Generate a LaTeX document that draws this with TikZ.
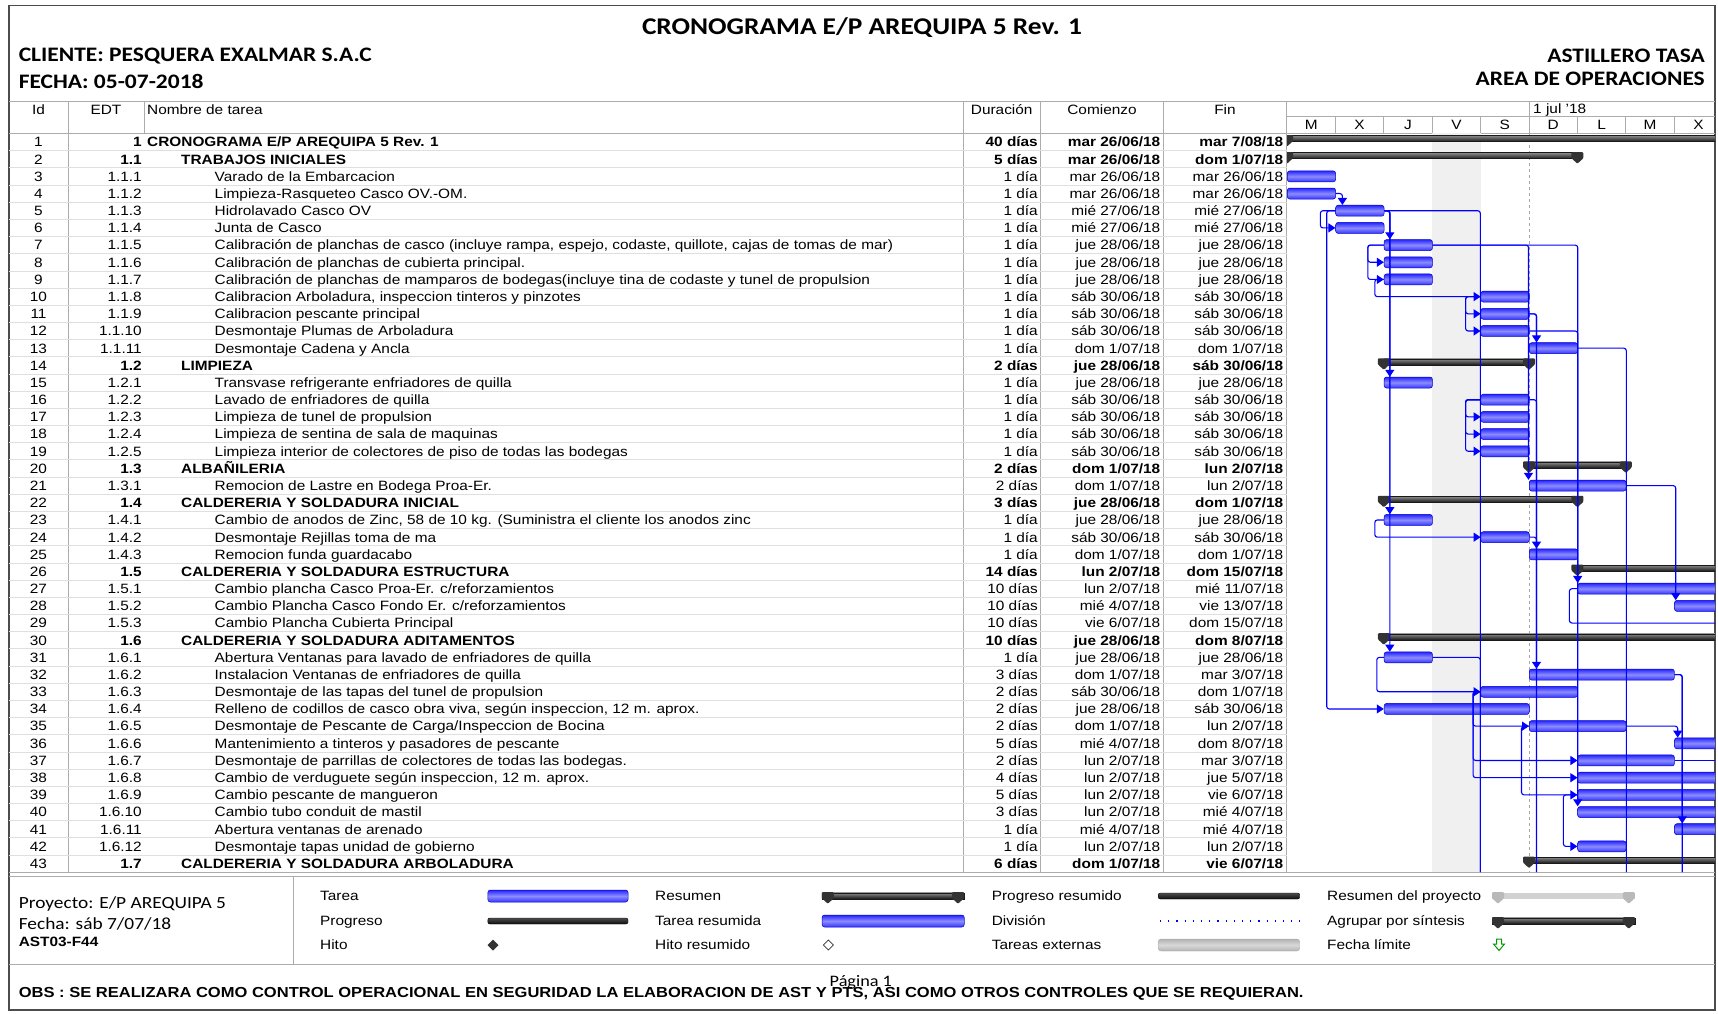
\documentclass[tikz,border=0pt]{standalone}
\usepackage{fontspec}
\setmainfont[FakeStretch=1.14]{Liberation Sans}
\newfontfamily\calibrifont[FakeStretch=1.14]{Carlito}
\usetikzlibrary{arrows.meta}
\usetikzlibrary{positioning}

\begin{document}
\begin{tikzpicture}[x=1pt,y=-1pt,
  tx/.style={inner sep=0pt, text height=9.7pt, text depth=0pt, font=\fontsize{13.5}{16}\selectfont},
  idc/.style={tx, anchor=center},
  edtc/.style={tx, anchor=east},
  nmc/.style={tx, anchor=west},
  durc/.style={tx, anchor=east},
  datc/.style={tx, anchor=east},
  sb/.style={font=\fontsize{13.5}{16}\selectfont\bfseries},
  task/.style={anchor=west, inner sep=0pt, minimum height=11pt, rounded corners=2.5pt, draw=blue!80!black, line width=0.5pt, top color=blue!85, bottom color=blue!80, middle color=blue!45},
  prog/.style={anchor=west, inner sep=0pt, minimum height=6pt, rounded corners=2pt, draw=black, top color=black!70, bottom color=black!95},
  sumbar/.style={draw=black!90, line width=0.4pt, top color=black!45, bottom color=black!90},
  sumcap/.pic={\fill[black!80, rounded corners=1pt] (-6,-7) -- (6,-7) -- (6,-1) -- (0,4.5) -- (-6,-1) -- cycle;},
  greycap/.pic={\fill[gray!55, rounded corners=1pt] (-6,-7) -- (6,-7) -- (6,-1) -- (0,4.5) -- (-6,-1) -- cycle;},
  link/.style={draw=blue, line width=1.1pt, rounded corners=2.5pt, -{Triangle[width=9pt,length=7pt]}},
  linkoff/.style={draw=blue, line width=1.1pt, rounded corners=2.5pt},
  grid/.style={gray!65, line width=0.8pt},
  rowline/.style={gray!25, line width=0.7pt}]
\useasboundingbox (0,0) rectangle (1718,1013);

% frame and header block
\draw[black!70, line width=1.2pt] (9,5.5) rectangle (1715,1010);
\node[font=\calibrifont\bfseries\fontsize{24}{28}\selectfont] (title) at (862,27.4) {CRONOGRAMA E/P AREQUIPA 5 Rev. 1};
\node[font=\calibrifont\bfseries\fontsize{20.6}{24}\selectfont, anchor=west, inner sep=0pt] (cliente) at (18.6,56) {CLIENTE: PESQUERA EXALMAR S.A.C};
\node[font=\calibrifont\bfseries\fontsize{20.6}{24}\selectfont, anchor=west, inner sep=0pt] (fecha) at (18.6,81) {FECHA: 05-07-2018};
\node[font=\calibrifont\bfseries\fontsize{20.6}{24}\selectfont, anchor=east, inner sep=0pt] (astillero) at (1705,56) {ASTILLERO TASA};
\node[font=\calibrifont\bfseries\fontsize{20.6}{24}\selectfont, inner sep=0pt, below left=9pt and 0pt of astillero.south east] (area) {AREA DE OPERACIONES};

% table grid
\draw[grid] (9,101) -- (1715,101);
\draw[grid] (9,133.4) -- (1715,133.4);
\draw[grid] (1286.5,116) -- (1715,116);
\draw[grid] (68,101) -- (68,872.15);
\draw[grid] (144.6,101) -- (144.6,133.4);
\draw[grid] (963.5,101) -- (963.5,872.15);
\draw[grid] (1040.5,101) -- (1040.5,872.15);
\draw[grid] (1163,101) -- (1163,872.15);
\draw[grid] (1286.5,101) -- (1286.5,872.15);
\draw[grid] (1529,101) -- (1529,116);
\draw[grid] (1335.4,116) -- (1335.4,133.4) (1383.8,116) -- (1383.8,133.4) (1432.2,116) -- (1432.2,133.4) (1480.6,116) -- (1480.6,133.4) (1529,116) -- (1529,133.4) (1577.4,116) -- (1577.4,133.4) (1625.8,116) -- (1625.8,133.4) (1674.2,116) -- (1674.2,133.4);
\draw[rowline] (9,150.59) -- (1286.5,150.59) (9,167.77) -- (1286.5,167.77) (9,184.95) -- (1286.5,184.95) (9,202.13) -- (1286.5,202.13) (9,219.31) -- (1286.5,219.31) (9,236.49) -- (1286.5,236.49) (9,253.67) -- (1286.5,253.67) (9,270.85) -- (1286.5,270.85) (9,288.03) -- (1286.5,288.03) (9,305.21) -- (1286.5,305.21) (9,322.39) -- (1286.5,322.39) (9,339.57) -- (1286.5,339.57) (9,356.75) -- (1286.5,356.75) (9,373.93) -- (1286.5,373.93);
\draw[rowline] (9,391.11) -- (1286.5,391.11) (9,408.29) -- (1286.5,408.29) (9,425.47) -- (1286.5,425.47) (9,442.65) -- (1286.5,442.65) (9,459.83) -- (1286.5,459.83) (9,477.01) -- (1286.5,477.01) (9,494.19) -- (1286.5,494.19) (9,511.37) -- (1286.5,511.37) (9,528.55) -- (1286.5,528.55) (9,545.73) -- (1286.5,545.73) (9,562.91) -- (1286.5,562.91) (9,580.09) -- (1286.5,580.09) (9,597.27) -- (1286.5,597.27) (9,614.45) -- (1286.5,614.45);
\draw[rowline] (9,631.63) -- (1286.5,631.63) (9,648.81) -- (1286.5,648.81) (9,665.99) -- (1286.5,665.99) (9,683.17) -- (1286.5,683.17) (9,700.35) -- (1286.5,700.35) (9,717.53) -- (1286.5,717.53) (9,734.71) -- (1286.5,734.71) (9,751.89) -- (1286.5,751.89) (9,769.07) -- (1286.5,769.07) (9,786.25) -- (1286.5,786.25) (9,803.43) -- (1286.5,803.43) (9,820.61) -- (1286.5,820.61) (9,837.79) -- (1286.5,837.79) (9,854.97) -- (1286.5,854.97);
\draw[grid] (9,872.15) -- (1715,872.15);
\draw[grid] (9,876) -- (1715,876);
\draw[grid] (9,964) -- (1715,964);
\draw[grid] (293.6,876) -- (293.6,964);

% column headings
\node[idc] (hid) at (38.5,110) {Id};
\node[idc] (hedt) at (106,110) {EDT};
\node[nmc] (hnm) at (147,110) {Nombre de tarea};
\node[idc] (hdur) at (1001.7,110) {Duración};
\node[idc] (hcom) at (1102,110) {Comienzo};
\node[idc] (hfin) at (1225,110) {Fin};
\node[nmc] (hsem) at (1533,109) {1 jul '18};
\node[idc] (d0) at (1311.2,125) {M};
\node[idc] (d1) at (1359.6,125) {X};
\node[idc] (d2) at (1408,125) {J};
\node[idc] (d3) at (1456.4,125) {V};
\node[idc] (d4) at (1504.8,125) {S};
\node[idc] (d5) at (1553.2,125) {D};
\node[idc] (d6) at (1601.6,125) {L};
\node[idc] (d7) at (1650,125) {M};
\node[idc] (d8) at (1698.4,125) {X};

% rows
\node[idc] (id1) at (38.5,142) {1}; \node[edtc,sb] (edt1) at (142,142) {1}; \node[nmc,sb] (nm1) at (147,142) {CRONOGRAMA E/P AREQUIPA 5 Rev. 1}; \node[durc,sb] (dur1) at (1038,142) {40 días}; \node[datc,sb] (com1) at (1160.5,142) {mar 26/06/18}; \node[datc,sb] (fin1) at (1283.5,142) {mar 7/08/18};
\node[idc] (id2) at (38.5,159.18) {2}; \node[edtc,sb] (edt2) at (142,159.18) {1.1}; \node[nmc,sb] (nm2) at (181,159.18) {TRABAJOS INICIALES}; \node[durc,sb] (dur2) at (1038,159.18) {5 días}; \node[datc,sb] (com2) at (1160.5,159.18) {mar 26/06/18}; \node[datc,sb] (fin2) at (1283.5,159.18) {dom 1/07/18};
\node[idc] (id3) at (38.5,176.36) {3}; \node[edtc] (edt3) at (142,176.36) {1.1.1}; \node[nmc] (nm3) at (214.5,176.36) {Varado de la Embarcacion}; \node[durc] (dur3) at (1038,176.36) {1 día}; \node[datc] (com3) at (1160.5,176.36) {mar 26/06/18}; \node[datc] (fin3) at (1283.5,176.36) {mar 26/06/18};
\node[idc] (id4) at (38.5,193.54) {4}; \node[edtc] (edt4) at (142,193.54) {1.1.2}; \node[nmc] (nm4) at (214.5,193.54) {Limpieza-Rasqueteo Casco OV.-OM.}; \node[durc] (dur4) at (1038,193.54) {1 día}; \node[datc] (com4) at (1160.5,193.54) {mar 26/06/18}; \node[datc] (fin4) at (1283.5,193.54) {mar 26/06/18};
\node[idc] (id5) at (38.5,210.72) {5}; \node[edtc] (edt5) at (142,210.72) {1.1.3}; \node[nmc] (nm5) at (214.5,210.72) {Hidrolavado Casco OV}; \node[durc] (dur5) at (1038,210.72) {1 día}; \node[datc] (com5) at (1160.5,210.72) {mié 27/06/18}; \node[datc] (fin5) at (1283.5,210.72) {mié 27/06/18};
\node[idc] (id6) at (38.5,227.90) {6}; \node[edtc] (edt6) at (142,227.90) {1.1.4}; \node[nmc] (nm6) at (214.5,227.90) {Junta de Casco}; \node[durc] (dur6) at (1038,227.90) {1 día}; \node[datc] (com6) at (1160.5,227.90) {mié 27/06/18}; \node[datc] (fin6) at (1283.5,227.90) {mié 27/06/18};
\node[idc] (id7) at (38.5,245.08) {7}; \node[edtc] (edt7) at (142,245.08) {1.1.5}; \node[nmc] (nm7) at (214.5,245.08) {Calibración de planchas de casco (incluye rampa, espejo, codaste, quillote, cajas de tomas de mar)}; \node[durc] (dur7) at (1038,245.08) {1 día}; \node[datc] (com7) at (1160.5,245.08) {jue 28/06/18}; \node[datc] (fin7) at (1283.5,245.08) {jue 28/06/18};
\node[idc] (id8) at (38.5,262.26) {8}; \node[edtc] (edt8) at (142,262.26) {1.1.6}; \node[nmc] (nm8) at (214.5,262.26) {Calibración de planchas de cubierta principal.}; \node[durc] (dur8) at (1038,262.26) {1 día}; \node[datc] (com8) at (1160.5,262.26) {jue 28/06/18}; \node[datc] (fin8) at (1283.5,262.26) {jue 28/06/18};
\node[idc] (id9) at (38.5,279.44) {9}; \node[edtc] (edt9) at (142,279.44) {1.1.7}; \node[nmc] (nm9) at (214.5,279.44) {Calibración de planchas de mamparos de bodegas(incluye tina de codaste y tunel de propulsion}; \node[durc] (dur9) at (1038,279.44) {1 día}; \node[datc] (com9) at (1160.5,279.44) {jue 28/06/18}; \node[datc] (fin9) at (1283.5,279.44) {jue 28/06/18};
\node[idc] (id10) at (38.5,296.62) {10}; \node[edtc] (edt10) at (142,296.62) {1.1.8}; \node[nmc] (nm10) at (214.5,296.62) {Calibracion Arboladura, inspeccion tinteros y pinzotes}; \node[durc] (dur10) at (1038,296.62) {1 día}; \node[datc] (com10) at (1160.5,296.62) {sáb 30/06/18}; \node[datc] (fin10) at (1283.5,296.62) {sáb 30/06/18};
\node[idc] (id11) at (38.5,313.80) {11}; \node[edtc] (edt11) at (142,313.80) {1.1.9}; \node[nmc] (nm11) at (214.5,313.80) {Calibracion pescante principal}; \node[durc] (dur11) at (1038,313.80) {1 día}; \node[datc] (com11) at (1160.5,313.80) {sáb 30/06/18}; \node[datc] (fin11) at (1283.5,313.80) {sáb 30/06/18};
\node[idc] (id12) at (38.5,330.98) {12}; \node[edtc] (edt12) at (142,330.98) {1.1.10}; \node[nmc] (nm12) at (214.5,330.98) {Desmontaje Plumas de Arboladura}; \node[durc] (dur12) at (1038,330.98) {1 día}; \node[datc] (com12) at (1160.5,330.98) {sáb 30/06/18}; \node[datc] (fin12) at (1283.5,330.98) {sáb 30/06/18};
\node[idc] (id13) at (38.5,348.16) {13}; \node[edtc] (edt13) at (142,348.16) {1.1.11}; \node[nmc] (nm13) at (214.5,348.16) {Desmontaje Cadena y Ancla}; \node[durc] (dur13) at (1038,348.16) {1 día}; \node[datc] (com13) at (1160.5,348.16) {dom 1/07/18}; \node[datc] (fin13) at (1283.5,348.16) {dom 1/07/18};
\node[idc] (id14) at (38.5,365.34) {14}; \node[edtc,sb] (edt14) at (142,365.34) {1.2}; \node[nmc,sb] (nm14) at (181,365.34) {LIMPIEZA}; \node[durc,sb] (dur14) at (1038,365.34) {2 días}; \node[datc,sb] (com14) at (1160.5,365.34) {jue 28/06/18}; \node[datc,sb] (fin14) at (1283.5,365.34) {sáb 30/06/18};
\node[idc] (id15) at (38.5,382.52) {15}; \node[edtc] (edt15) at (142,382.52) {1.2.1}; \node[nmc] (nm15) at (214.5,382.52) {Transvase refrigerante enfriadores de quilla}; \node[durc] (dur15) at (1038,382.52) {1 día}; \node[datc] (com15) at (1160.5,382.52) {jue 28/06/18}; \node[datc] (fin15) at (1283.5,382.52) {jue 28/06/18};
\node[idc] (id16) at (38.5,399.70) {16}; \node[edtc] (edt16) at (142,399.70) {1.2.2}; \node[nmc] (nm16) at (214.5,399.70) {Lavado de enfriadores de quilla}; \node[durc] (dur16) at (1038,399.70) {1 día}; \node[datc] (com16) at (1160.5,399.70) {sáb 30/06/18}; \node[datc] (fin16) at (1283.5,399.70) {sáb 30/06/18};
\node[idc] (id17) at (38.5,416.88) {17}; \node[edtc] (edt17) at (142,416.88) {1.2.3}; \node[nmc] (nm17) at (214.5,416.88) {Limpieza de tunel de propulsion}; \node[durc] (dur17) at (1038,416.88) {1 día}; \node[datc] (com17) at (1160.5,416.88) {sáb 30/06/18}; \node[datc] (fin17) at (1283.5,416.88) {sáb 30/06/18};
\node[idc] (id18) at (38.5,434.06) {18}; \node[edtc] (edt18) at (142,434.06) {1.2.4}; \node[nmc] (nm18) at (214.5,434.06) {Limpieza de sentina de sala de maquinas}; \node[durc] (dur18) at (1038,434.06) {1 día}; \node[datc] (com18) at (1160.5,434.06) {sáb 30/06/18}; \node[datc] (fin18) at (1283.5,434.06) {sáb 30/06/18};
\node[idc] (id19) at (38.5,451.24) {19}; \node[edtc] (edt19) at (142,451.24) {1.2.5}; \node[nmc] (nm19) at (214.5,451.24) {Limpieza interior de colectores de piso de todas las bodegas}; \node[durc] (dur19) at (1038,451.24) {1 día}; \node[datc] (com19) at (1160.5,451.24) {sáb 30/06/18}; \node[datc] (fin19) at (1283.5,451.24) {sáb 30/06/18};
\node[idc] (id20) at (38.5,468.42) {20}; \node[edtc,sb] (edt20) at (142,468.42) {1.3}; \node[nmc,sb] (nm20) at (181,468.42) {ALBAÑILERIA}; \node[durc,sb] (dur20) at (1038,468.42) {2 días}; \node[datc,sb] (com20) at (1160.5,468.42) {dom 1/07/18}; \node[datc,sb] (fin20) at (1283.5,468.42) {lun 2/07/18};
\node[idc] (id21) at (38.5,485.60) {21}; \node[edtc] (edt21) at (142,485.60) {1.3.1}; \node[nmc] (nm21) at (214.5,485.60) {Remocion de Lastre en Bodega Proa-Er.}; \node[durc] (dur21) at (1038,485.60) {2 días}; \node[datc] (com21) at (1160.5,485.60) {dom 1/07/18}; \node[datc] (fin21) at (1283.5,485.60) {lun 2/07/18};
\node[idc] (id22) at (38.5,502.78) {22}; \node[edtc,sb] (edt22) at (142,502.78) {1.4}; \node[nmc,sb] (nm22) at (181,502.78) {CALDERERIA Y SOLDADURA INICIAL}; \node[durc,sb] (dur22) at (1038,502.78) {3 días}; \node[datc,sb] (com22) at (1160.5,502.78) {jue 28/06/18}; \node[datc,sb] (fin22) at (1283.5,502.78) {dom 1/07/18};
\node[idc] (id23) at (38.5,519.96) {23}; \node[edtc] (edt23) at (142,519.96) {1.4.1}; \node[nmc] (nm23) at (214.5,519.96) {Cambio de anodos de Zinc, 58 de 10 kg. (Suministra el cliente los anodos zinc}; \node[durc] (dur23) at (1038,519.96) {1 día}; \node[datc] (com23) at (1160.5,519.96) {jue 28/06/18}; \node[datc] (fin23) at (1283.5,519.96) {jue 28/06/18};
\node[idc] (id24) at (38.5,537.14) {24}; \node[edtc] (edt24) at (142,537.14) {1.4.2}; \node[nmc] (nm24) at (214.5,537.14) {Desmontaje Rejillas toma de ma}; \node[durc] (dur24) at (1038,537.14) {1 día}; \node[datc] (com24) at (1160.5,537.14) {sáb 30/06/18}; \node[datc] (fin24) at (1283.5,537.14) {sáb 30/06/18};
\node[idc] (id25) at (38.5,554.32) {25}; \node[edtc] (edt25) at (142,554.32) {1.4.3}; \node[nmc] (nm25) at (214.5,554.32) {Remocion funda guardacabo}; \node[durc] (dur25) at (1038,554.32) {1 día}; \node[datc] (com25) at (1160.5,554.32) {dom 1/07/18}; \node[datc] (fin25) at (1283.5,554.32) {dom 1/07/18};
\node[idc] (id26) at (38.5,571.50) {26}; \node[edtc,sb] (edt26) at (142,571.50) {1.5}; \node[nmc,sb] (nm26) at (181,571.50) {CALDERERIA Y SOLDADURA ESTRUCTURA}; \node[durc,sb] (dur26) at (1038,571.50) {14 días}; \node[datc,sb] (com26) at (1160.5,571.50) {lun 2/07/18}; \node[datc,sb] (fin26) at (1283.5,571.50) {dom 15/07/18};
\node[idc] (id27) at (38.5,588.68) {27}; \node[edtc] (edt27) at (142,588.68) {1.5.1}; \node[nmc] (nm27) at (214.5,588.68) {Cambio plancha Casco Proa-Er. c/reforzamientos}; \node[durc] (dur27) at (1038,588.68) {10 días}; \node[datc] (com27) at (1160.5,588.68) {lun 2/07/18}; \node[datc] (fin27) at (1283.5,588.68) {mié 11/07/18};
\node[idc] (id28) at (38.5,605.86) {28}; \node[edtc] (edt28) at (142,605.86) {1.5.2}; \node[nmc] (nm28) at (214.5,605.86) {Cambio Plancha Casco Fondo Er. c/reforzamientos}; \node[durc] (dur28) at (1038,605.86) {10 días}; \node[datc] (com28) at (1160.5,605.86) {mié 4/07/18}; \node[datc] (fin28) at (1283.5,605.86) {vie 13/07/18};
\node[idc] (id29) at (38.5,623.04) {29}; \node[edtc] (edt29) at (142,623.04) {1.5.3}; \node[nmc] (nm29) at (214.5,623.04) {Cambio Plancha Cubierta Principal}; \node[durc] (dur29) at (1038,623.04) {10 días}; \node[datc] (com29) at (1160.5,623.04) {vie 6/07/18}; \node[datc] (fin29) at (1283.5,623.04) {dom 15/07/18};
\node[idc] (id30) at (38.5,640.22) {30}; \node[edtc,sb] (edt30) at (142,640.22) {1.6}; \node[nmc,sb] (nm30) at (181,640.22) {CALDERERIA Y SOLDADURA ADITAMENTOS}; \node[durc,sb] (dur30) at (1038,640.22) {10 días}; \node[datc,sb] (com30) at (1160.5,640.22) {jue 28/06/18}; \node[datc,sb] (fin30) at (1283.5,640.22) {dom 8/07/18};
\node[idc] (id31) at (38.5,657.40) {31}; \node[edtc] (edt31) at (142,657.40) {1.6.1}; \node[nmc] (nm31) at (214.5,657.40) {Abertura Ventanas para lavado de enfriadores de quilla}; \node[durc] (dur31) at (1038,657.40) {1 día}; \node[datc] (com31) at (1160.5,657.40) {jue 28/06/18}; \node[datc] (fin31) at (1283.5,657.40) {jue 28/06/18};
\node[idc] (id32) at (38.5,674.58) {32}; \node[edtc] (edt32) at (142,674.58) {1.6.2}; \node[nmc] (nm32) at (214.5,674.58) {Instalacion Ventanas de enfriadores de quilla}; \node[durc] (dur32) at (1038,674.58) {3 días}; \node[datc] (com32) at (1160.5,674.58) {dom 1/07/18}; \node[datc] (fin32) at (1283.5,674.58) {mar 3/07/18};
\node[idc] (id33) at (38.5,691.76) {33}; \node[edtc] (edt33) at (142,691.76) {1.6.3}; \node[nmc] (nm33) at (214.5,691.76) {Desmontaje de las tapas del tunel de propulsion}; \node[durc] (dur33) at (1038,691.76) {2 días}; \node[datc] (com33) at (1160.5,691.76) {sáb 30/06/18}; \node[datc] (fin33) at (1283.5,691.76) {dom 1/07/18};
\node[idc] (id34) at (38.5,708.94) {34}; \node[edtc] (edt34) at (142,708.94) {1.6.4}; \node[nmc] (nm34) at (214.5,708.94) {Relleno de codillos de casco obra viva, según inspeccion, 12 m. aprox.}; \node[durc] (dur34) at (1038,708.94) {2 días}; \node[datc] (com34) at (1160.5,708.94) {jue 28/06/18}; \node[datc] (fin34) at (1283.5,708.94) {sáb 30/06/18};
\node[idc] (id35) at (38.5,726.12) {35}; \node[edtc] (edt35) at (142,726.12) {1.6.5}; \node[nmc] (nm35) at (214.5,726.12) {Desmontaje de Pescante de Carga/Inspeccion de Bocina}; \node[durc] (dur35) at (1038,726.12) {2 días}; \node[datc] (com35) at (1160.5,726.12) {dom 1/07/18}; \node[datc] (fin35) at (1283.5,726.12) {lun 2/07/18};
\node[idc] (id36) at (38.5,743.30) {36}; \node[edtc] (edt36) at (142,743.30) {1.6.6}; \node[nmc] (nm36) at (214.5,743.30) {Mantenimiento a tinteros y pasadores de pescante}; \node[durc] (dur36) at (1038,743.30) {5 días}; \node[datc] (com36) at (1160.5,743.30) {mié 4/07/18}; \node[datc] (fin36) at (1283.5,743.30) {dom 8/07/18};
\node[idc] (id37) at (38.5,760.48) {37}; \node[edtc] (edt37) at (142,760.48) {1.6.7}; \node[nmc] (nm37) at (214.5,760.48) {Desmontaje de parrillas de colectores de todas las bodegas.}; \node[durc] (dur37) at (1038,760.48) {2 días}; \node[datc] (com37) at (1160.5,760.48) {lun 2/07/18}; \node[datc] (fin37) at (1283.5,760.48) {mar 3/07/18};
\node[idc] (id38) at (38.5,777.66) {38}; \node[edtc] (edt38) at (142,777.66) {1.6.8}; \node[nmc] (nm38) at (214.5,777.66) {Cambio de verduguete según inspeccion, 12 m. aprox.}; \node[durc] (dur38) at (1038,777.66) {4 días}; \node[datc] (com38) at (1160.5,777.66) {lun 2/07/18}; \node[datc] (fin38) at (1283.5,777.66) {jue 5/07/18};
\node[idc] (id39) at (38.5,794.84) {39}; \node[edtc] (edt39) at (142,794.84) {1.6.9}; \node[nmc] (nm39) at (214.5,794.84) {Cambio pescante de mangueron}; \node[durc] (dur39) at (1038,794.84) {5 días}; \node[datc] (com39) at (1160.5,794.84) {lun 2/07/18}; \node[datc] (fin39) at (1283.5,794.84) {vie 6/07/18};
\node[idc] (id40) at (38.5,812.02) {40}; \node[edtc] (edt40) at (142,812.02) {1.6.10}; \node[nmc] (nm40) at (214.5,812.02) {Cambio tubo conduit de mastil}; \node[durc] (dur40) at (1038,812.02) {3 días}; \node[datc] (com40) at (1160.5,812.02) {lun 2/07/18}; \node[datc] (fin40) at (1283.5,812.02) {mié 4/07/18};
\node[idc] (id41) at (38.5,829.20) {41}; \node[edtc] (edt41) at (142,829.20) {1.6.11}; \node[nmc] (nm41) at (214.5,829.20) {Abertura ventanas de arenado}; \node[durc] (dur41) at (1038,829.20) {1 día}; \node[datc] (com41) at (1160.5,829.20) {mié 4/07/18}; \node[datc] (fin41) at (1283.5,829.20) {mié 4/07/18};
\node[idc] (id42) at (38.5,846.38) {42}; \node[edtc] (edt42) at (142,846.38) {1.6.12}; \node[nmc] (nm42) at (214.5,846.38) {Desmontaje tapas unidad de gobierno}; \node[durc] (dur42) at (1038,846.38) {1 día}; \node[datc] (com42) at (1160.5,846.38) {lun 2/07/18}; \node[datc] (fin42) at (1283.5,846.38) {lun 2/07/18};
\node[idc] (id43) at (38.5,863.56) {43}; \node[edtc,sb] (edt43) at (142,863.56) {1.7}; \node[nmc,sb] (nm43) at (181,863.56) {CALDERERIA Y SOLDADURA ARBOLADURA}; \node[durc,sb] (dur43) at (1038,863.56) {6 días}; \node[datc,sb] (com43) at (1160.5,863.56) {dom 1/07/18}; \node[datc,sb] (fin43) at (1283.5,863.56) {vie 6/07/18};

% gantt
\begin{scope}
\clip (1287,133.4) rectangle (1715,872.15);
\fill[gray!12] (1432.2,133.4) rectangle (1480.6,872.15);
\draw[gray!70, dash pattern=on 3pt off 3pt, line width=0.8pt] (1529,133.4) -- (1529,872.15);

% summary bars
\draw[sumbar] (1287,135.5) rectangle (1730,141.5); \pic at (1287,142) {sumcap};
\draw[sumbar] (1287,152.68) rectangle (1577.4,158.68); \pic at (1287,159.18) {sumcap}; \pic at (1577.4,159.18) {sumcap};
\draw[sumbar] (1383.8,358.84) rectangle (1529,364.84); \pic at (1383.8,365.34) {sumcap}; \pic at (1529,365.34) {sumcap};
\draw[sumbar] (1529,461.92) rectangle (1625.8,467.92); \pic at (1529,468.42) {sumcap}; \pic at (1625.8,468.42) {sumcap};
\draw[sumbar] (1383.8,496.28) rectangle (1577.4,502.28); \pic at (1383.8,502.78) {sumcap}; \pic at (1577.4,502.78) {sumcap};
\draw[sumbar] (1577.4,565) rectangle (1730,571); \pic at (1577.4,571.5) {sumcap};
\draw[sumbar] (1383.8,633.72) rectangle (1730,639.72); \pic at (1383.8,640.22) {sumcap};
\draw[sumbar] (1529,857.06) rectangle (1730,863.06); \pic at (1529,863.56) {sumcap};

% task bars
\node[task, minimum width=48.4pt] (b3) at (1287,176.36) {};
\node[task, minimum width=48.4pt] (b4) at (1287,193.54) {};
\node[task, minimum width=48.4pt] (b5) at (1335.4,210.72) {};
\node[task, minimum width=48.4pt] (b6) at (1335.4,227.90) {};
\node[task, minimum width=48.4pt] (b7) at (1383.8,245.08) {};
\node[task, minimum width=48.4pt] (b8) at (1383.8,262.26) {};
\node[task, minimum width=48.4pt] (b9) at (1383.8,279.44) {};
\node[task, minimum width=48.4pt] (b10) at (1480.6,296.62) {};
\node[task, minimum width=48.4pt] (b11) at (1480.6,313.80) {};
\node[task, minimum width=48.4pt] (b12) at (1480.6,330.98) {};
\node[task, minimum width=48.4pt] (b13) at (1529,348.16) {};
\node[task, minimum width=48.4pt] (b15) at (1383.8,382.52) {};
\node[task, minimum width=48.4pt] (b16) at (1480.6,399.70) {};
\node[task, minimum width=48.4pt] (b17) at (1480.6,416.88) {};
\node[task, minimum width=48.4pt] (b18) at (1480.6,434.06) {};
\node[task, minimum width=48.4pt] (b19) at (1480.6,451.24) {};
\node[task, minimum width=96.8pt] (b21) at (1529,485.60) {};
\node[task, minimum width=48.4pt] (b23) at (1383.8,519.96) {};
\node[task, minimum width=48.4pt] (b24) at (1480.6,537.14) {};
\node[task, minimum width=48.4pt] (b25) at (1529,554.32) {};
\node[task, minimum width=160pt] (b27) at (1577.4,588.68) {};
\node[task, minimum width=60pt] (b28) at (1674.2,605.86) {};
\node[task, minimum width=48.4pt] (b31) at (1383.8,657.40) {};
\node[task, minimum width=145.2pt] (b32) at (1529,674.58) {};
\node[task, minimum width=96.8pt] (b33) at (1480.6,691.76) {};
\node[task, minimum width=145.2pt] (b34) at (1383.8,708.94) {};
\node[task, minimum width=96.8pt] (b35) at (1529,726.12) {};
\node[task, minimum width=60pt] (b36) at (1674.2,743.30) {};
\node[task, minimum width=96.8pt] (b37) at (1577.4,760.48) {};
\node[task, minimum width=160pt] (b38) at (1577.4,777.66) {};
\node[task, minimum width=160pt] (b39) at (1577.4,794.84) {};
\node[task, minimum width=160pt] (b40) at (1577.4,812.02) {};
\node[task, minimum width=48.4pt] (b41) at (1674.2,829.20) {};
\node[task, minimum width=48.4pt] (b42) at (1577.4,846.38) {};

% off-page ends
\coordinate (pg1) at (1480.3,872.15);
\coordinate (pg2) at (1536.5,872.15);
\coordinate (pg3) at (1626.3,872.15);
\coordinate (pg4) at (1720,623.04);
\coordinate (pg5) at (1682.2,872.15);
\coordinate (pg6) at (1720,760.48);

% links
\draw[link] (b4.east) -| ([xshift=7pt]b5.north west);
\draw[link] (b5.west) -- ++(-15,0) |- (b6.west);
\draw[link] (b5.west) -- ++(-8.7,0) |- (b34.west);
\draw[link] (b5.east) -| ([xshift=6pt]b7.north west);
\draw[link] (b5.east) -| ([xshift=6pt]b15.north west);
\draw[link] (b5.east) -| ([xshift=6pt]b23.north west);
\draw[link] (b5.east) -| ([xshift=6pt]b31.north west);
\draw[linkoff] (b5.east) -| (pg1);
\draw[link] (b7.west) -- ++(-16,0) |- (b8.west);
\draw[link] (b7.west) -- ++(-16,0) |- (b9.west);
\draw[link] (b9.west) -- ++(-9,0) |- (b10.west);
\draw[link] (b10.west) -- ++(-15,0) |- (b11.west);
\draw[link] (b10.west) -- ++(-15,0) |- (b12.west);
\draw[link] (b7.east) -| ([xshift=-0.5pt]b21.north west);
\draw[link] (b7.east) -| ([xshift=0.3pt]b27.north west);
\draw[link] (b12.east) -| ([xshift=0.3pt]b40.north west);
\draw[link] (b11.east) -| ([xshift=7.5pt]b13.north west);
\draw[linkoff] (b11.east) -| (pg2);
\draw[link] (b16.east) -| ([xshift=7.5pt]b32.north west);
\draw[link] (b24.east) -| ([xshift=7.5pt]b25.north west);
\draw[linkoff] (b13.east) -| (pg3);
\draw[link] (b21.east) -| ([xshift=1.5pt]b28.north west);
\draw[link] (b16.west) -- ++(-15,0) |- (b17.west);
\draw[link] (b16.west) -- ++(-15,0) |- (b18.west);
\draw[link] (b16.west) -- ++(-15,0) |- (b19.west);
\draw[link] (b23.west) -- ++(-9,0) |- (b24.west);
\draw[linkoff] (b27.west) -- ++(-8,0) |- (pg4);
\draw[link] (b31.west) -- ++(-7,0) |- (b33.west);
\draw[linkoff] (b31.east) -| (pg1);
\draw[link] (b33.west) -- ++(-7.5,0) |- (b35.west);
\draw[link] (b33.west) -- ++(-7.5,0) |- (b37.west);
\draw[link] (b33.west) -- ++(-7.5,0) |- (b38.west);
\draw[link] (b35.west) -- ++(-7.5,0) |- (b39.west);
\draw[link] (b39.west) -- ++(-14,0) |- (b42.west);
\draw[link] (b35.east) -| ([xshift=3.5pt]b36.north west);
\draw[link] (b32.east) -| ([xshift=8pt]b41.north west);
\draw[linkoff] (b32.east) -| (pg5);
\draw[linkoff] (b37.east) -- (pg6);
\end{scope}

% legend
\node[font=\calibrifont\fontsize{17}{20}\selectfont, anchor=west, inner sep=0pt] (proyecto) at (18.6,904) {Proyecto: E/P AREQUIPA 5};
\node[font=\calibrifont\fontsize{17}{20}\selectfont, anchor=west, inner sep=0pt] (fechalg) at (18.6,923.7) {Fecha: sáb 7/07/18};
\node[tx, font=\fontsize{13.5}{16}\selectfont\bfseries, anchor=west] (codigo) at (18.6,942) {AST03-F44};

\node[nmc] (lt1) at (320,896) {Tarea};
\node[nmc] (lt2) at (320,921) {Progreso};
\node[nmc] (lt3) at (320,945) {Hito};
\node[nmc] (lt4) at (655,896) {Resumen};
\node[nmc] (lt5) at (655,921) {Tarea resumida};
\node[nmc] (lt6) at (655,945) {Hito resumido};
\node[nmc] (lt7) at (991.6,896) {Progreso resumido};
\node[nmc] (lt8) at (991.6,921) {División};
\node[nmc] (lt9) at (991.6,945) {Tareas externas};
\node[nmc] (lt10) at (1327,896) {Resumen del proyecto};
\node[nmc] (lt11) at (1327,921) {Agrupar por síntesis};
\node[nmc] (lt12) at (1327,945) {Fecha límite};

\node[task, minimum width=140.2pt, minimum height=12pt] (ls1) at (487.6,896) {};
\node[prog, minimum width=140.2pt] (ls2) at (487.6,921) {};
\fill[black!80] (493,939.5) -- (498.5,945) -- (493,950.5) -- (487.5,945) -- cycle;
\draw[sumbar] (821.8,892.7) rectangle (964,898.7); \pic at (827.8,899.2) {sumcap}; \pic at (958,899.2) {sumcap};
\node[task, minimum width=142.2pt, minimum height=12pt] (ls5) at (821.8,921) {};
\draw[black!80, line width=0.8pt] (828.4,940) -- (833.4,945) -- (828.4,950) -- (823.4,945) -- cycle;
\node[prog, minimum width=141.5pt] (ls7) at (1158,896) {};
\draw[blue, line width=1.6pt, dash pattern=on 1.2pt off 7pt] (1160,921) -- (1299.5,921);
\node[anchor=west, inner sep=0pt, minimum width=141.5pt, minimum height=12pt, rounded corners=3pt, draw=gray!70, top color=gray!60, bottom color=gray!60, middle color=gray!30] (ls9) at (1158,945) {};
\fill[gray!35] (1492,892.7) rectangle (1634.8,898.7); \pic at (1498,899.2) {greycap}; \pic at (1628.8,899.2) {greycap};
\draw[sumbar] (1492,917.7) rectangle (1634.8,923.7); \pic at (1498,924.2) {sumcap}; \pic at (1628.8,924.2) {sumcap};
\draw[green!60!black, line width=1pt] (1496.5,939) -- (1501.5,939) -- (1501.5,944) -- (1504.5,944) -- (1499,950.5) -- (1493.5,944) -- (1496.5,944) -- cycle;

% footer
\node[font=\calibrifont\fontsize{16}{18}\selectfont, anchor=west, inner sep=0pt] (pagina) at (829.5,982) {Página 1};
\node[font=\fontsize{14.5}{17}\selectfont\bfseries, anchor=west, inner sep=0pt] (obs) at (18.6,994) {OBS : SE REALIZARA COMO CONTROL OPERACIONAL EN SEGURIDAD LA ELABORACION DE AST Y PTS, ASI COMO OTROS CONTROLES QUE SE REQUIERAN.};

\end{tikzpicture}
\end{document}
